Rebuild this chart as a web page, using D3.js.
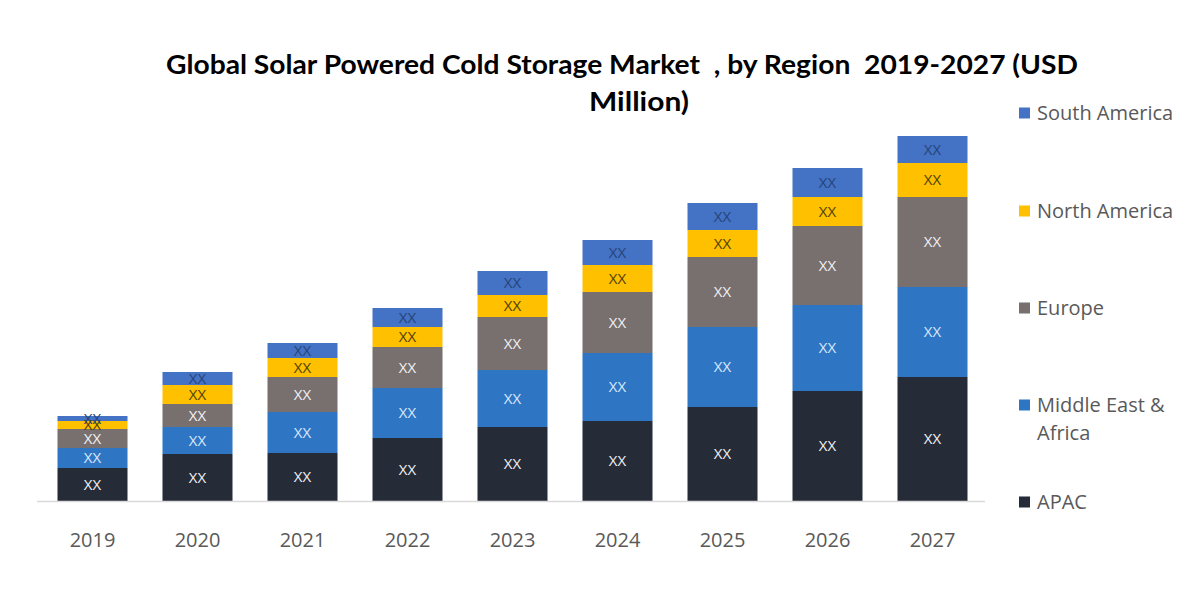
<!DOCTYPE html>
<html>
<head>
<meta charset="utf-8">
<script src="https://cdn.jsdelivr.net/npm/d3@7"></script>
<style>
  html, body { margin: 0; padding: 0; background: #ffffff; }
  svg { display: block; }
</style>
</head>
<body>
<svg id="chart" width="1200" height="600"></svg>
<script>
const years = ["2019","2020","2021","2022","2023","2024","2025","2026","2027"];
const seriesNames = ["APAC","Middle East & Africa","Europe","North America","South America"];
const apac          = [33, 47, 48, 63, 74, 80, 94, 110, 124];
const middleEast    = [20, 27, 41, 50, 57, 68, 80, 86, 90];
const europe        = [19, 23, 35, 41, 53, 61, 70, 79, 90];
const northAmerica  = [8, 19, 19, 20, 22, 27, 27, 29, 34];
const southAmerica  = [5, 13, 15, 19, 24, 25, 27, 29, 27];
const valueLabels   = ["XX","XX","XX","XX","XX"];
const titleLines = ["Global Solar Powered Cold Storage Market  , by Region  2019-2027 (USD", "Million)"];

const colors = ["#262b38", "#2e75c4", "#786f6f", "#ffc000", "#4472c4"];
const labelColors = ["#f2f2f2", "#dbe9fb", "#f2f2f2", "#4d4000", "#26447a"];

const svg = d3.select("#chart");
const seriesData = [apac, middleEast, europe, northAmerica, southAmerica];

const rows = years.map((y, i) => {
  const r = { year: y };
  seriesNames.forEach((s, k) => r[s] = seriesData[k][i]);
  return r;
});
const stacked = d3.stack().keys(seriesNames)(rows);

const x = d3.scaleBand().domain(years).range([40, 985]).paddingInner(1/3).paddingOuter(1/6);
const y = d3.scaleLinear().domain([0, 400]).range([501, 101]);

// title
const title = svg.append("g").attr("font-family", "Lato, 'Open Sans', sans-serif")
  .attr("font-weight", "bold").attr("fill", "#000");
title.append("text").attr("x", 622).attr("y", 74).attr("text-anchor", "middle")
  .attr("font-size", 26).attr("textLength", 912).attr("lengthAdjust", "spacingAndGlyphs")
  .attr("xml:space", "preserve").style("white-space", "pre")
  .text(titleLines[0]);
title.append("text").attr("x", 639).attr("y", 111).attr("text-anchor", "middle")
  .attr("font-size", 26).attr("textLength", 100).attr("lengthAdjust", "spacingAndGlyphs")
  .text(titleLines[1]);

// bars
const layers = svg.append("g").selectAll("g").data(stacked).join("g")
  .attr("fill", (d, i) => colors[i]);
layers.selectAll("rect").data(d => d).join("rect")
  .attr("x", d => x(d.data.year))
  .attr("width", x.bandwidth())
  .attr("y", d => y(d[1]))
  .attr("height", d => y(d[0]) - y(d[1]));

// value labels
const lab = svg.append("g").attr("font-family", "'Open Sans', sans-serif").attr("font-size", 15)
  .attr("text-anchor", "middle");
stacked.forEach((layer, k) => {
  lab.selectAll(null).data(layer).join("text")
    .attr("x", d => x(d.data.year) + x.bandwidth() / 2)
    .attr("y", d => (y(d[0]) + y(d[1])) / 2)
    .attr("dy", "0.35em")
    .attr("fill", labelColors[k])
    .text(valueLabels[k]);
});

// axis
const xAxis = d3.axisBottom(x).tickSize(0).tickPadding(0);
const ax = svg.append("g").attr("transform", "translate(0,501)").call(xAxis);
ax.select(".domain").attr("stroke", "#d9d9d9").attr("stroke-width", 1.5).attr("d", "M37,0.5H985");
ax.selectAll("text").attr("font-family", "'Open Sans', sans-serif").attr("font-size", 20)
  .attr("fill", "#595959").attr("dy", null).attr("y", 46);

// legend
const legendItems = [
  { name: "South America", lines: ["South America"], color: colors[4], cy: 113 },
  { name: "North America", lines: ["North America"], color: colors[3], cy: 211 },
  { name: "Europe", lines: ["Europe"], color: colors[2], cy: 308 },
  { name: "Middle East & Africa", lines: ["Middle East &", "Africa"], color: colors[1], cy: 405 },
  { name: "APAC", lines: ["APAC"], color: colors[0], cy: 502 }
];
const lg = svg.append("g").attr("font-family", "'Open Sans', sans-serif").attr("font-size", 20)
  .attr("fill", "#595959");
legendItems.forEach(it => {
  lg.append("rect").attr("x", 1019).attr("y", it.cy - 5.5).attr("width", 11).attr("height", 11)
    .attr("fill", it.color);
  it.lines.forEach((ln, j) => {
    lg.append("text").attr("x", 1037).attr("y", it.cy + 7 + j * 28).text(ln);
  });
});
</script>
</body>
</html>
